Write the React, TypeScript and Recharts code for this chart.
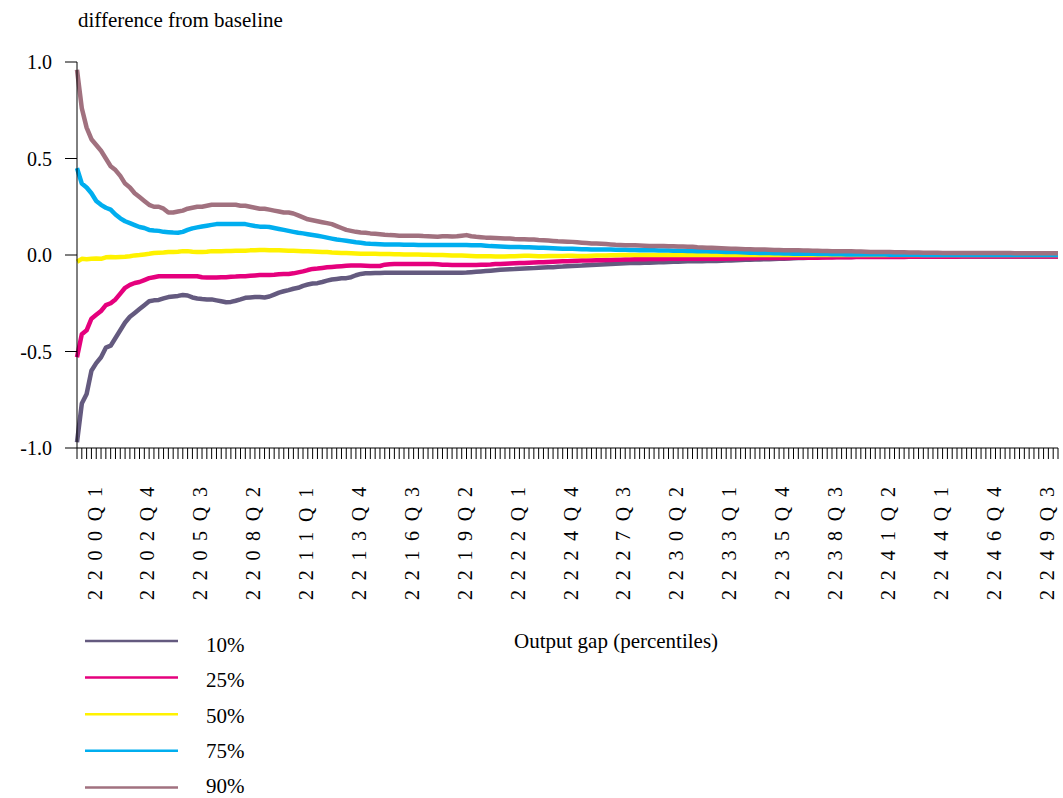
import { LineChart, Line, XAxis, YAxis } from "recharts";

const FONT = "'Liberation Serif', 'Times New Roman', serif";

// quarterly periods 2200Q1 .. 2251Q1
const quarters: string[] = [];
for (let yr = 2200; yr <= 2251; yr++) {
  for (let q = 1; q <= 4; q++) {
    if (quarters.length < 205) quarters.push(`${yr}Q${q}`);
  }
}

const yTicks = [-1, -0.5, 0, 0.5, 1];

const p10 = [
  -0.97, -0.77, -0.72, -0.6, -0.56, -0.53, -0.48, -0.47, -0.43, -0.39,
  -0.35, -0.32, -0.3, -0.28, -0.26, -0.24, -0.235, -0.233, -0.225, -0.218,
  -0.215, -0.212, -0.207, -0.21, -0.22, -0.225, -0.228, -0.23, -0.23, -0.235,
  -0.24, -0.245, -0.243, -0.237, -0.23, -0.222, -0.22, -0.218, -0.218, -0.22,
  -0.215, -0.205, -0.195, -0.188, -0.182, -0.175, -0.17, -0.16, -0.153, -0.148,
  -0.146, -0.14, -0.133, -0.127, -0.124, -0.121, -0.12, -0.115, -0.105, -0.098,
  -0.095, -0.094, -0.093, -0.093, -0.092, -0.092, -0.092, -0.092, -0.092, -0.092,
  -0.092, -0.092, -0.092, -0.092, -0.092, -0.092, -0.092, -0.092, -0.092, -0.092,
  -0.092, -0.091, -0.089, -0.087, -0.085, -0.083, -0.081, -0.079, -0.077, -0.075,
  -0.074, -0.073, -0.071, -0.07, -0.069, -0.068, -0.066, -0.065, -0.064, -0.063,
  -0.061, -0.06, -0.058, -0.057, -0.056, -0.055, -0.053, -0.052, -0.05, -0.049,
  -0.048, -0.047, -0.045, -0.044, -0.043, -0.042, -0.042, -0.041, -0.04, -0.04,
  -0.039, -0.038, -0.037, -0.036, -0.035, -0.035, -0.034, -0.033, -0.033, -0.032,
  -0.032, -0.031, -0.031, -0.031, -0.03, -0.029, -0.028, -0.027, -0.026, -0.025,
  -0.024, -0.023, -0.023, -0.022, -0.022, -0.021, -0.02, -0.019, -0.018, -0.017,
  -0.016, -0.015, -0.014, -0.013, -0.012, -0.012, -0.011, -0.011, -0.01, -0.01,
  -0.01, -0.01, -0.009, -0.009, -0.009, -0.009, -0.009, -0.009, -0.009, -0.009,
  -0.009, -0.009, -0.009, -0.009, -0.009, -0.008, -0.008, -0.008, -0.008, -0.008,
  -0.008, -0.008, -0.008, -0.008, -0.008, -0.008, -0.008, -0.008, -0.008, -0.008,
  -0.008, -0.008, -0.008, -0.008, -0.008, -0.008, -0.008, -0.008, -0.008, -0.008,
  -0.008, -0.008, -0.008, -0.008, -0.008,
];

const p25 = [
  -0.53, -0.41, -0.39, -0.33, -0.31, -0.29, -0.26, -0.25, -0.23, -0.2,
  -0.17, -0.155, -0.145, -0.14, -0.13, -0.12, -0.115, -0.11, -0.11, -0.11,
  -0.11, -0.11, -0.11, -0.11, -0.11, -0.11, -0.115, -0.117, -0.117, -0.116,
  -0.115, -0.115, -0.113, -0.112, -0.11, -0.11, -0.108, -0.106, -0.104, -0.104,
  -0.103, -0.102, -0.1, -0.099, -0.098, -0.095, -0.09, -0.085, -0.078, -0.072,
  -0.07, -0.067, -0.064, -0.062, -0.06, -0.058, -0.056, -0.055, -0.055, -0.055,
  -0.056, -0.057, -0.057, -0.057, -0.05, -0.048, -0.047, -0.047, -0.047, -0.047,
  -0.047, -0.047, -0.047, -0.047, -0.047, -0.048, -0.05, -0.051, -0.052, -0.052,
  -0.052, -0.052, -0.052, -0.052, -0.051, -0.05, -0.049, -0.047, -0.046, -0.045,
  -0.044, -0.043, -0.042, -0.041, -0.04, -0.039, -0.038, -0.037, -0.036, -0.035,
  -0.034, -0.033, -0.032, -0.031, -0.03, -0.029, -0.028, -0.028, -0.027, -0.027,
  -0.026, -0.026, -0.025, -0.024, -0.023, -0.023, -0.022, -0.022, -0.022, -0.021,
  -0.021, -0.021, -0.021, -0.02, -0.02, -0.02, -0.02, -0.02, -0.02, -0.02,
  -0.02, -0.02, -0.02, -0.019, -0.019, -0.019, -0.018, -0.018, -0.018, -0.017,
  -0.017, -0.017, -0.016, -0.016, -0.016, -0.015, -0.015, -0.015, -0.015, -0.014,
  -0.014, -0.014, -0.014, -0.014, -0.014, -0.013, -0.013, -0.013, -0.012, -0.012,
  -0.012, -0.012, -0.011, -0.011, -0.011, -0.011, -0.01, -0.01, -0.01, -0.01,
  -0.01, -0.01, -0.01, -0.009, -0.009, -0.009, -0.009, -0.009, -0.009, -0.009,
  -0.009, -0.009, -0.009, -0.009, -0.008, -0.008, -0.008, -0.008, -0.008, -0.008,
  -0.008, -0.008, -0.008, -0.008, -0.008, -0.008, -0.008, -0.008, -0.008, -0.008,
  -0.008, -0.008, -0.008, -0.008, -0.008,
];

const p50 = [
  -0.035, -0.02, -0.022, -0.02, -0.018, -0.02, -0.012, -0.01, -0.012, -0.01,
  -0.009, -0.006, -0.002, 0.0, 0.003, 0.006, 0.01, 0.012, 0.013, 0.015,
  0.015, 0.017, 0.02, 0.02, 0.017, 0.015, 0.015, 0.017, 0.02, 0.02,
  0.02, 0.021, 0.021, 0.022, 0.022, 0.022, 0.024, 0.025, 0.026, 0.026,
  0.025, 0.025, 0.024, 0.023, 0.022, 0.022, 0.021, 0.02, 0.019, 0.018,
  0.017, 0.016, 0.015, 0.013, 0.012, 0.011, 0.01, 0.009, 0.008, 0.007,
  0.007, 0.006, 0.006, 0.005, 0.005, 0.005, 0.004, 0.004, 0.003, 0.003,
  0.002, 0.002, 0.001, 0.001, 0.0, 0.0, 0.0, -0.001, -0.002, -0.003,
  -0.003, -0.004, -0.005, -0.006, -0.006, -0.007, -0.007, -0.008, -0.008, -0.008,
  -0.007, -0.006, -0.005, -0.004, -0.004, -0.005, -0.006, -0.006, -0.005, -0.005,
  -0.005, -0.005, -0.004, -0.004, -0.005, -0.005, -0.005, -0.004, -0.003, -0.002,
  -0.002, -0.001, -0.001, 0.0, 0.0, 0.0, 0.0, 0.0, 0.0, 0.0,
  0, 0, 0, 0, 0, 0, 0, 0, 0, 0,
  0, 0, 0, 0, 0, 0, 0, 0, 0, 0,
  0, 0, 0, 0, 0, 0, 0, 0, 0, 0,
  0, 0, 0, 0, 0, 0, 0, 0, 0, 0,
  0, 0, 0, 0, 0, 0, 0, 0, 0, 0,
  0, 0, 0, 0, 0, 0, 0, 0, 0, 0,
  0, 0, 0, 0, 0, 0, 0, 0, 0, 0,
  0, 0, 0, 0, 0, 0, 0, 0, 0, 0,
  0, 0, 0, 0, 0,
];

const p75 = [
  0.45, 0.37, 0.35, 0.32, 0.28, 0.26, 0.245, 0.235, 0.21, 0.19,
  0.175, 0.165, 0.155, 0.145, 0.14, 0.13, 0.127, 0.125, 0.12, 0.118,
  0.116, 0.115, 0.12, 0.13, 0.138, 0.143, 0.148, 0.152, 0.156, 0.16,
  0.16, 0.16, 0.16, 0.16, 0.16, 0.16, 0.155, 0.15, 0.147, 0.147,
  0.145, 0.14, 0.135, 0.13, 0.125, 0.12, 0.115, 0.112, 0.108, 0.104,
  0.1, 0.095, 0.09, 0.085, 0.08, 0.077, 0.074, 0.07, 0.066, 0.063,
  0.06, 0.058, 0.057, 0.056, 0.055, 0.055, 0.054, 0.054, 0.053, 0.053,
  0.053, 0.052, 0.052, 0.052, 0.052, 0.052, 0.052, 0.052, 0.052, 0.052,
  0.052, 0.052, 0.051, 0.05, 0.05, 0.048, 0.046, 0.045, 0.044, 0.043,
  0.042, 0.041, 0.041, 0.04, 0.04, 0.039, 0.038, 0.037, 0.036, 0.035,
  0.034, 0.033, 0.033, 0.032, 0.031, 0.03, 0.03, 0.029, 0.029, 0.028,
  0.028, 0.028, 0.027, 0.027, 0.027, 0.026, 0.026, 0.025, 0.025, 0.024,
  0.024, 0.023, 0.023, 0.023, 0.022, 0.022, 0.022, 0.021, 0.021, 0.02,
  0.02, 0.019, 0.018, 0.018, 0.017, 0.016, 0.015, 0.015, 0.014, 0.013,
  0.012, 0.012, 0.011, 0.01, 0.01, 0.009, 0.009, 0.008, 0.008, 0.007,
  0.007, 0.006, 0.006, 0.006, 0.005, 0.005, 0.005, 0.004, 0.004, 0.004,
  0.003, 0.003, 0.003, 0.003, 0.002, 0.002, 0.002, 0.002, 0.002, 0.001,
  0.001, 0.001, 0.001, 0.001, 0.001, 0.001, 0, 0, 0, 0,
  0, 0, 0, 0, 0, 0, 0, 0, 0, 0,
  0, 0, 0, 0, 0, 0, 0, 0, 0, 0,
  0, 0, 0, 0, 0,
];

const p90 = [
  0.96, 0.76, 0.66, 0.6, 0.57, 0.54, 0.5, 0.46, 0.44, 0.41,
  0.37, 0.35, 0.32, 0.3, 0.28, 0.26, 0.25, 0.25, 0.24, 0.22,
  0.22, 0.225, 0.23, 0.24, 0.245, 0.25, 0.25, 0.255, 0.26, 0.26,
  0.26, 0.26, 0.26, 0.26, 0.255, 0.255, 0.25, 0.245, 0.24, 0.24,
  0.235, 0.23, 0.225, 0.22, 0.22, 0.215, 0.205, 0.195, 0.185, 0.18,
  0.175, 0.17, 0.165, 0.16, 0.15, 0.14, 0.13, 0.125, 0.12, 0.117,
  0.115, 0.112, 0.11, 0.108, 0.105, 0.103, 0.102, 0.1, 0.1, 0.1,
  0.1, 0.1, 0.098, 0.097, 0.096, 0.095, 0.097, 0.097, 0.096, 0.097,
  0.1, 0.103, 0.097, 0.094, 0.092, 0.09, 0.089, 0.088, 0.087, 0.086,
  0.085, 0.083, 0.082, 0.081, 0.08, 0.08, 0.078, 0.077, 0.075, 0.073,
  0.071, 0.07, 0.069, 0.068, 0.066, 0.064, 0.062, 0.06, 0.059, 0.058,
  0.057, 0.055, 0.053, 0.052, 0.051, 0.05, 0.05, 0.049, 0.048, 0.047,
  0.047, 0.046, 0.046, 0.045, 0.045, 0.044, 0.044, 0.043, 0.043, 0.04,
  0.039, 0.038, 0.037, 0.036, 0.035, 0.034, 0.033, 0.032, 0.031, 0.03,
  0.03, 0.029, 0.028, 0.028, 0.027, 0.026, 0.026, 0.025, 0.025, 0.024,
  0.024, 0.023, 0.023, 0.022, 0.022, 0.021, 0.021, 0.02, 0.02, 0.02,
  0.019, 0.019, 0.018, 0.018, 0.017, 0.016, 0.015, 0.015, 0.015, 0.015,
  0.014, 0.014, 0.014, 0.013, 0.013, 0.013, 0.012, 0.012, 0.012, 0.012,
  0.011, 0.011, 0.011, 0.011, 0.011, 0.011, 0.01, 0.01, 0.01, 0.01,
  0.01, 0.01, 0.01, 0.01, 0.01, 0.009, 0.009, 0.009, 0.009, 0.009,
  0.009, 0.009, 0.009, 0.009, 0.009,
];

const seriesNames = ["10%", "25%", "50%", "75%", "90%"];
const seriesKeys = ["p10", "p25", "p50", "p75", "p90"];
const seriesColors = ["#645a7f", "#e5007d", "#fff200", "#00aeef", "#a1717f"];

const data = quarters.map((q, i) => ({
  q,
  p10: p10[i],
  p25: p25[i],
  p50: p50[i],
  p75: p75[i],
  p90: p90[i],
}));

// every 11th quarter gets a vertical label
function QuarterTick(props: any) {
  const { x, payload, index } = props;
  if (index % 11 !== 0) return <g />;
  const tx = x + 24.5;
  const ty = 600;
  return (
    <text
      x={tx}
      y={ty}
      transform={`rotate(-90, ${tx}, ${ty})`}
      fontSize={20}
      fontFamily={FONT}
      letterSpacing={9.7}
      fill="#000"
    >
      {payload.value}
    </text>
  );
}

export default function App() {
  return (
    <div style={{ position: "absolute", left: 0, top: 0, width: 1063, height: 798, background: "#fff" }}>
      <LineChart
        width={1063}
        height={798}
        data={data}
        margin={{ top: 62, right: 5, left: 0, bottom: 190 }}
      >
        <XAxis
          dataKey="q"
          interval={0}
          height={160}
          tickSize={11}
          tick={QuarterTick}
          axisLine={{ stroke: "#000" }}
          tickLine={{ stroke: "#000" }}
        />
        <YAxis
          domain={[-1, 1]}
          ticks={yTicks}
          width={77}
          tickSize={12}
          tickMargin={13}
          tickFormatter={(v: number) => v.toFixed(1)}
          tick={{ fontSize: 20, fill: "#000", fontFamily: FONT }}
          axisLine={{ stroke: "#000" }}
          tickLine={{ stroke: "#000" }}
        />
        {seriesKeys.map((k, i) => (
          <Line
            key={k}
            dataKey={k}
            name={seriesNames[i]}
            type="linear"
            stroke={seriesColors[i]}
            strokeWidth={4.5}
            strokeLinejoin="round"
            dot={false}
            isAnimationActive={false}
          />
        ))}
      </LineChart>
      <svg
        width={1063}
        height={798}
        style={{ position: "absolute", left: 0, top: 0, pointerEvents: "none" }}
        fontFamily={FONT}
      >
        <text x={78} y={27} fontSize={21} fill="#000">
          difference from baseline
        </text>
        <text x={514} y={648} fontSize={21} fill="#000">
          Output gap (percentiles)
        </text>
        {seriesNames.map((n, i) => {
          const ly = 641 + i * 36.6;
          const ty = 652 + i * 35.25;
          return (
            <g key={n}>
              <line x1={85} x2={178} y1={ly} y2={ly} stroke={seriesColors[i]} strokeWidth={2.5} />
              <text x={206} y={ty} fontSize={21} fill="#000">
                {n}
              </text>
            </g>
          );
        })}
      </svg>
    </div>
  );
}
